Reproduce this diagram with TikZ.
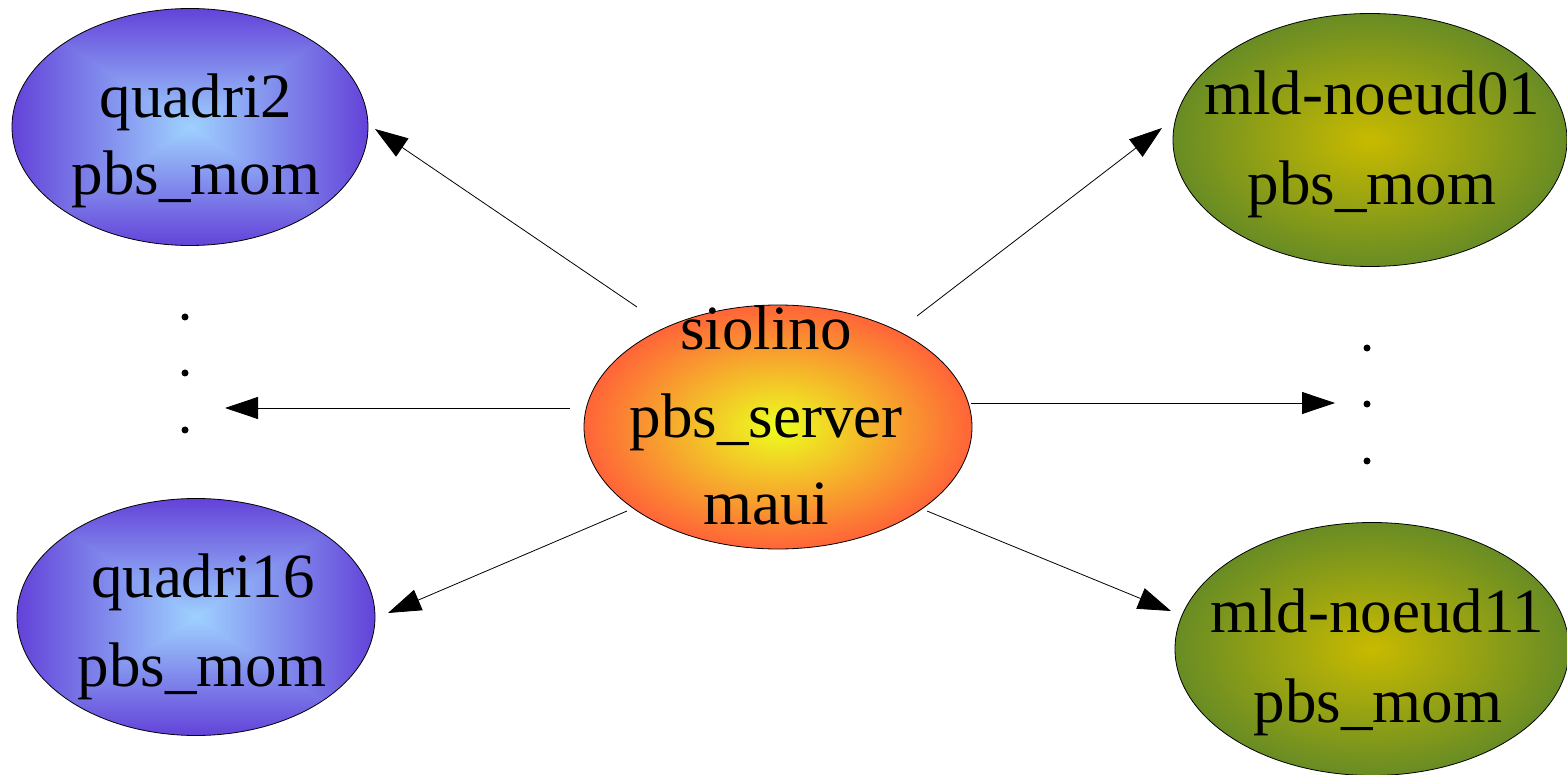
\documentclass[tikz,border=0pt]{standalone}
\usepackage{fontspec}
\setmainfont{Liberation Serif}
\usetikzlibrary{arrows.meta,shapes.geometric}
\definecolor{orin}{RGB}{236,255,30}
\definecolor{orout}{RGB}{255,100,56}
\definecolor{grin}{RGB}{200,186,0}
\definecolor{grout}{RGB}{104,140,36}
\pgfdeclareradialshading{orangegrad}{\pgfpoint{0bp}{0bp}}{color(0bp)=(orin); color(25bp)=(orout); color(50bp)=(orout)}
\pgfdeclareradialshading{greengrad}{\pgfpoint{0bp}{0bp}}{color(0bp)=(grin); color(25bp)=(grout); color(50bp)=(grout)}
\pgfdeclarefunctionalshading{bluegrad}{\pgfpoint{-50bp}{-50bp}}{\pgfpoint{50bp}{50bp}}{}{
 abs exch abs 2 copy lt {exch} if pop 25 div dup 1 gt {pop 1} if
 dup -0.23 mul 0.62 add exch
 dup -0.56 mul 0.82 add exch
 -0.15 mul 1.0 add
}
\tikzset{
  host/.style={ellipse, draw=black, line width=0.8pt, inner sep=0pt},
  lbl/.style={anchor=base, inner sep=0pt, font=\fontsize{63}{75}\selectfont},
  link/.style={line width=0.8pt, -{Triangle[length=33pt,width=22pt]}},
  dotmark/.style={circle, fill=black, inner sep=0pt, minimum size=7pt}
}
\begin{document}
\begin{tikzpicture}[x=1pt,y=-1pt]
\useasboundingbox (0,0) rectangle (1567,775);
% hosts
\node[host, shading=bluegrad, minimum width=356pt, minimum height=237pt] (quadri2) at (190,127) {};
\node[host, shading=bluegrad, minimum width=358pt, minimum height=237pt] (quadri16) at (196,617) {};
\node[host, shading=orangegrad, minimum width=388pt, minimum height=244pt] (siolino) at (778,427) {};
\node[host, shading=greengrad, minimum width=394pt, minimum height=253pt] (noeud01) at (1370,140) {};
\node[host, shading=greengrad, minimum width=394pt, minimum height=253pt] (noeud11) at (1372,649) {};
% labels
\node[lbl] (q2a) at (196,118) {quadri2};
\node[lbl] (q2b) at (196,195) {pbs\_mom};
\node[lbl] (q16a) at (203,597) {quadri16};
\node[lbl] (q16b) at (202,686) {pbs\_mom};
\node[lbl] (sa) at (766,350) {siolino};
\node[lbl] (sb) at (766,438) {pbs\_server};
\node[lbl] (sc) at (766,525) {maui};
\node[lbl] (n1a) at (1372,115) {mld-noeud01};
\node[lbl] (n1b) at (1372,205) {pbs\_mom};
\node[lbl] (n11a) at (1377,632) {mld-noeud11};
\node[lbl] (n11b) at (1378,722) {pbs\_mom};
% dots
\node[dotmark] (l1) at (185,317) {};
\node[dotmark] (l2) at (185,373) {};
\node[dotmark] (l3) at (185,430) {};
\node[dotmark] (r1) at (1367,348) {};
\node[dotmark] (r2) at (1367,404) {};
\node[dotmark] (r3) at (1367,461) {};
% connector ends
\coordinate (a1s) at (637,307); \coordinate (a1e) at (375,129);
\coordinate (a2s) at (570,408); \coordinate (a2e) at (225,408);
\coordinate (a3s) at (627,511); \coordinate (a3e) at (388,613);
\coordinate (a4s) at (917,316); \coordinate (a4e) at (1162,128);
\coordinate (a5s) at (971,403); \coordinate (a5e) at (1335,403);
\coordinate (a6s) at (927,511); \coordinate (a6e) at (1171,611);
\draw[link] (a1s) -- (a1e);
\draw[link] (a2s) -- (a2e);
\draw[link] (a3s) -- (a3e);
\draw[link] (a4s) -- (a4e);
\draw[link] (a5s) -- (a5e);
\draw[link] (a6s) -- (a6e);
\end{tikzpicture}
\end{document}
